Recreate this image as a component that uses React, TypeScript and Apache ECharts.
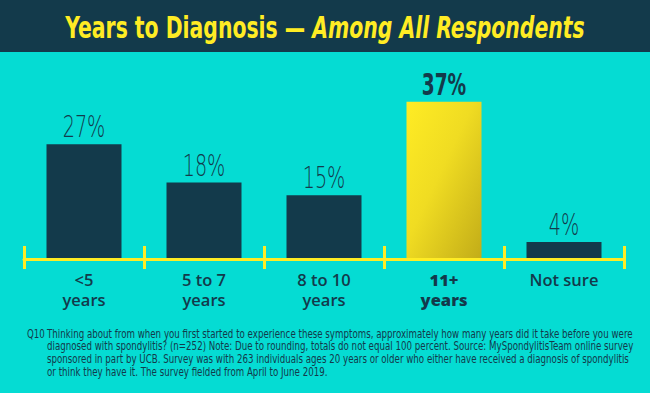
import React, { useEffect, useRef } from "react";
import * as echarts from "echarts";

const categories = ["<5\nyears", "5 to 7\nyears", "8 to 10\nyears", "11+\nyears", "Not sure"];
const values = [27, 18, 15, 37, 4];
const highlightIndex = 3;
const titleMain = "Years to Diagnosis — ";
const titleItalic = "Among All Respondents";
const noteLabel = "Q10";
const noteLines = [
  "Thinking about from when you first started to experience these symptoms, approximately how many years did it take before you were",
  "diagnosed with spondylitis? (n=252) Note: Due to rounding, totals do not equal 100 percent. Source: MySpondylitisTeam online survey",
  "sponsored in part by UCB. Survey was with 263 individuals ages 20 years or older who either have received a diagnosis of spondylitis",
  "or think they have it. The survey fielded from April to June 2019.",
];

const BG = "#05DCD3";
const DARK = "#133A4B";
const YELLOW = "#FFEC24";
const COND = "'DejaVu Sans Condensed', 'DejaVu Sans', sans-serif";
const SANS = "'Open Sans', 'Noto Sans', sans-serif";

export default function App() {
  const ref = useRef<HTMLDivElement>(null);
  useEffect(() => {
    if (!ref.current) return;
    const chart = echarts.init(ref.current, null, { renderer: "svg" });
    const option: any = {
      animation: false,
      backgroundColor: BG,
      graphic: [
        { type: "rect", shape: { x: 0, y: 0, width: 650, height: 52 }, style: { fill: DARK }, z: -10 },
        {
          type: "text",
          x: 325,
          y: 27,
          scaleX: 0.755,
          style: {
            text: `{a|${titleMain}}{b|${titleItalic}}`,
            align: "center",
            verticalAlign: "middle",
            rich: {
              a: { fontFamily: COND, fontWeight: "bold", fontSize: 30, fill: YELLOW },
              b: { fontFamily: COND, fontWeight: "bold", fontStyle: "italic", fontSize: 30, fill: YELLOW },
            },
          },
        },
        {
          type: "text",
          x: 27,
          y: 334,
          scaleX: 0.84,
          style: { text: noteLabel, fontFamily: COND, fontSize: 11.5, fill: DARK, verticalAlign: "middle" },
        },
        ...noteLines.map((t, i) => ({
          type: "text",
          x: 47,
          y: 334 + i * 12.7,
          scaleX: 0.84,
          style: { text: t, fontFamily: COND, fontSize: 11.5, fill: DARK, verticalAlign: "middle" },
        })),
      ],
      grid: { left: 24, right: 26, top: 89, bottom: 134 },
      xAxis: [
        {
          type: "category",
          data: categories,
          boundaryGap: true,
          axisLine: { show: true, lineStyle: { color: YELLOW, width: 3 } },
          axisTick: { show: true, inside: true, length: 13, lineStyle: { color: YELLOW, width: 3 } },
          axisLabel: {
            margin: 10,
            interval: 0,
            fontFamily: SANS,
            fontWeight: 600,
            fontSize: 16.5,
            lineHeight: 20,
            color: DARK,
            formatter: (v: string, i: number) =>
              i === highlightIndex ? `{b|${v}}` : v,
            rich: {
              b: { fontFamily: SANS, fontWeight: 800, fontSize: 16.5, color: DARK, lineHeight: 20 },
            },
          },
          z: 5,
        },
        {
          type: "category",
          data: categories,
          position: "bottom",
          boundaryGap: true,
          axisLine: { show: false },
          axisTick: { show: true, inside: false, length: 10, lineStyle: { color: YELLOW, width: 3 } },
          axisLabel: { show: false },
        },
      ],
      yAxis: {
        type: "value",
        min: 0,
        max: 40,
        show: false,
        splitLine: { show: false },
      },
      series: [
        {
          type: "bar",
          barWidth: 75,
          z: 2,
          data: values.map((v, i) => ({
            value: v,
            itemStyle:
              i === highlightIndex
                ? {
                    color: new echarts.graphic.LinearGradient(0, 0, 1, 1, [
                      { offset: 0, color: "#FFEC24" },
                      { offset: 0.45, color: "#F0DC22" },
                      { offset: 1, color: "#C2AC18" },
                    ]),
                  }
                : { color: DARK },
          })),
        },
        {
          type: "custom",
          z: 3,
          data: values.map((v, i) => [i, v]),
          renderItem: (params: any, api: any) => {
            const idx = api.value(0);
            const v = api.value(1);
            const pt = api.coord([idx, v]);
            const bold = idx === highlightIndex;
            return {
              type: "text",
              x: pt[0],
              y: pt[1] - 2,
              scaleX: bold ? 0.62 : 0.64,
              style: {
                text: `${v}%`,
                align: "center",
                verticalAlign: "bottom",
                fontFamily: "'DejaVu Sans', sans-serif",
                fontWeight: bold ? "bold" : 200,
                fontSize: 30,
                fill: DARK,
              },
            };
          },
        },
      ],
    };
    chart.setOption(option);
    return () => chart.dispose();
  }, []);
  return (
    <div
      ref={ref}
      style={{ position: "fixed", left: 0, top: 0, width: 650, height: 393 }}
    />
  );
}
